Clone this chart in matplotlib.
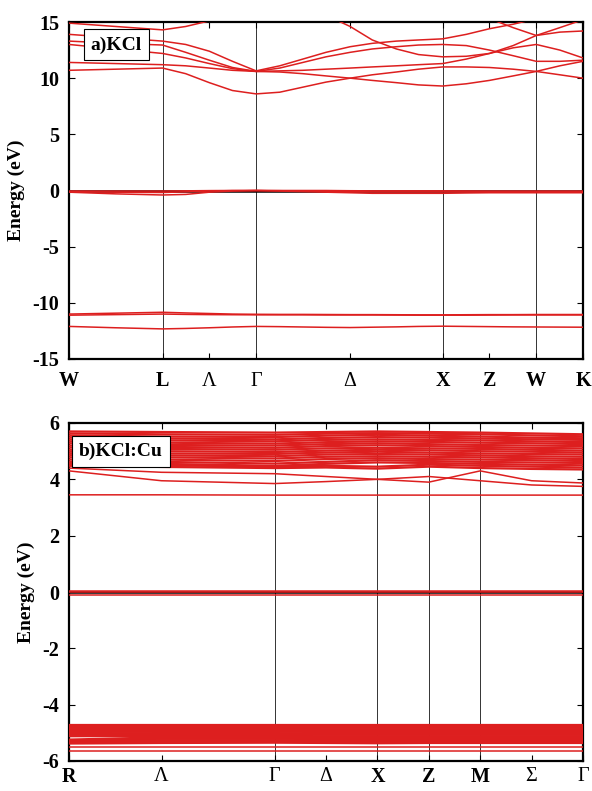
import numpy as np
import matplotlib.pyplot as plt

plt.rcParams['font.family'] = ['Liberation Serif', 'DejaVu Serif']
plt.rcParams['axes.unicode_minus'] = False

RED = '#dd1f1f'

# ---------------- a) KCl ----------------
k_a = [0.0, 0.091, 0.182, 0.227, 0.273, 0.318, 0.364, 0.41, 0.455, 0.5, 0.547,
       0.59, 0.637, 0.68, 0.727, 0.773, 0.818, 0.864, 0.909, 0.955, 1.0]
ticks_a = [0.0, 0.182, 0.273, 0.364, 0.547, 0.727, 0.818, 0.909, 1.0]
labels_a = ['W', 'L', 'Λ', 'Γ', 'Δ', 'X', 'Z', 'W', 'K']
vlines_a = [0.182, 0.364, 0.727, 0.909]

# conduction bands
c1 = [10.7, 10.8, 10.9, 10.4, 9.6, 8.9, 8.6, 8.75, 9.2, 9.65, 10.0, 10.3, 10.55, 10.8, 11.0, 11.0, 10.95, 10.8, 10.6, 10.3, 10.0]
c2 = [11.4, 11.3, 11.2, 11.1, 10.9, 10.7, 10.6, 10.55, 10.4, 10.2, 10.0, 9.8, 9.6, 9.4, 9.3, 9.5, 9.8, 10.2, 10.6, 11.1, 11.5]
c3 = [13.0, 12.6, 12.2, 11.8, 11.3, 10.85, 10.6, 10.65, 10.7, 10.8, 10.9, 11.0, 11.1, 11.2, 11.3, 11.7, 12.2, 12.7, 13.0, 12.5, 11.8]
c4 = [13.3, 13.1, 12.95, 12.3, 11.6, 10.95, 10.6, 10.9, 11.4, 11.9, 12.3, 12.6, 12.8, 12.95, 13.0, 12.9, 12.5, 12.0, 11.5, 11.5, 11.6]
c5 = [13.9, 13.6, 13.3, 13.0, 12.4, 11.5, 10.65, 11.1, 11.7, 12.3, 12.8, 13.1, 13.3, 13.4, 13.5, 13.9, 14.4, 14.8, 15.3, 15.6, 15.8]
c6 = [14.9, 14.6, 14.3, 14.6, 15.1, 15.8, 16.5, 16.5, 16.5, 16.5, 16.5, 16.5, 16.5, 16.5, 16.5, 16.5, 16.5, 16.5, 16.5, 16.5, 16.5]
c7 = [16.5, 16.5, 16.5, 16.5, 16.5, 16.5, 16.5, 16.5, 16.5, 15.6, 14.6, 13.4, 12.6, 12.1, 11.9, 11.95, 12.2, 12.9, 13.8, 14.1, 14.2]
c8 = [16.5, 16.5, 16.5, 16.5, 16.5, 16.5, 16.5, 16.5, 16.5, 16.5, 16.5, 16.5, 16.5, 16.5, 16.5, 16.0, 15.3, 14.5, 13.8, 14.5, 15.2]
# valence bands (Cl 3p)
v1 = [-0.05, -0.05, -0.05, -0.03, -0.01, 0.0, 0.0, 0.0, 0.0, 0.0, -0.02, -0.03, -0.03, -0.03, -0.03, -0.04, -0.05, -0.05, -0.05, -0.05, -0.05]
v2 = [-0.15, -0.3, -0.4, -0.35, -0.15, -0.05, 0.0, -0.05, -0.1, -0.15, -0.2, -0.25, -0.25, -0.25, -0.25, -0.22, -0.2, -0.2, -0.2, -0.2, -0.2]
v3 = [-0.1, -0.15, -0.18, -0.12, -0.05, -0.01, 0.0, -0.02, -0.05, -0.08, -0.1, -0.12, -0.12, -0.12, -0.12, -0.12, -0.12, -0.12, -0.12, -0.12, -0.12]
# Cl 3s bands
s1 = [-11.0, -10.92, -10.84, -10.9, -10.95, -11.0, -11.02, -11.03, -11.03, -11.04, -11.05, -11.05, -11.06, -11.07, -11.07, -11.06, -11.05, -11.05, -11.04, -11.04, -11.04]
s2 = [-11.1, -11.05, -11.0, -11.03, -11.05, -11.06, -11.07, -11.07, -11.07, -11.08, -11.08, -11.08, -11.09, -11.1, -11.1, -11.1, -11.09, -11.08, -11.08, -11.08, -11.08]
s3 = [-12.1, -12.22, -12.32, -12.28, -12.22, -12.15, -12.1, -12.12, -12.15, -12.18, -12.2, -12.17, -12.14, -12.1, -12.08, -12.1, -12.12, -12.14, -12.15, -12.16, -12.17]

bands_a = [c1, c2, c3, c4, c5, c6, c7, c8, v1, v2, v3, s1, s2, s3]

# ---------------- b) KCl:Cu ----------------
k_b = [0.0, 0.18, 0.40, 0.50, 0.60, 0.70, 0.80, 0.90, 1.0]
labels_b = ['R', 'Λ', 'Γ', 'Δ', 'X', 'Z', 'M', 'Σ', 'Γ']
vlines_b = [0.40, 0.60, 0.70, 0.80]

cb_dense = [
    [5.70, 5.68, 5.66, 5.68, 5.70, 5.68, 5.66, 5.63, 5.60],
    [5.63, 5.60, 5.58, 5.62, 5.64, 5.62, 5.60, 5.56, 5.53],
    [5.56, 5.52, 5.50, 5.55, 5.58, 5.55, 5.52, 5.48, 5.46],
    [5.49, 5.45, 5.42, 5.47, 5.50, 5.48, 5.45, 5.42, 5.40],
    [5.42, 5.38, 5.35, 5.40, 5.42, 5.40, 5.38, 5.35, 5.32],
    [5.35, 5.30, 5.27, 5.32, 5.35, 5.33, 5.30, 5.28, 5.25],
    [5.28, 5.22, 5.20, 5.25, 5.28, 5.25, 5.22, 5.20, 5.18],
    [5.20, 5.15, 5.12, 5.18, 5.21, 5.18, 5.15, 5.12, 5.10],
    [5.13, 5.08, 5.05, 5.10, 5.12, 5.10, 5.08, 5.05, 5.02],
    [5.05, 5.00, 4.97, 5.02, 5.05, 5.03, 5.00, 4.98, 4.95],
    [4.98, 4.92, 4.90, 4.95, 4.98, 4.95, 4.92, 4.90, 4.88],
    [4.91, 4.85, 4.82, 4.88, 4.90, 4.88, 4.85, 4.82, 4.80],
    [4.85, 4.78, 4.74, 4.80, 4.82, 4.80, 4.78, 4.75, 4.72],
    [4.78, 4.70, 4.65, 4.72, 4.75, 4.72, 4.70, 4.68, 4.65],
    [4.70, 4.62, 4.56, 4.62, 4.68, 4.65, 4.62, 4.60, 4.58],
    [4.62, 4.55, 4.48, 4.55, 4.60, 4.58, 4.55, 4.52, 4.50],
    [4.55, 4.50, 4.45, 4.48, 4.45, 4.52, 4.48, 4.45, 4.42],
    [4.48, 4.44, 4.40, 4.42, 4.38, 4.45, 4.40, 4.37, 4.35],
]
cb_low1 = [4.40, 4.25, 4.20, 4.10, 4.00, 3.90, 4.30, 3.95, 3.87]
cb_low2 = [4.30, 3.95, 3.85, 3.92, 4.00, 4.10, 3.95, 3.80, 3.75]
cb_flat = [3.45, 3.45, 3.44, 3.44, 3.44, 3.44, 3.44, 3.44, 3.44]
vb_top = [
    [0.04, 0.04, 0.04, 0.04, 0.04, 0.04, 0.04, 0.04, 0.04],
    [0.01, 0.01, 0.01, 0.01, 0.01, 0.01, 0.01, 0.01, 0.01],
    [-0.10, -0.10, -0.10, -0.10, -0.10, -0.10, -0.10, -0.10, -0.10],
]
vb_dense = [
    [-4.72, -4.72, -4.72, -4.72, -4.72, -4.72, -4.72, -4.72, -4.72],
    [-4.77, -4.77, -4.76, -4.77, -4.77, -4.77, -4.77, -4.77, -4.77],
    [-4.82, -4.82, -4.81, -4.82, -4.82, -4.82, -4.82, -4.82, -4.82],
    [-4.87, -4.86, -4.86, -4.87, -4.87, -4.87, -4.87, -4.87, -4.87],
    [-4.92, -4.91, -4.91, -4.92, -4.92, -4.92, -4.92, -4.92, -4.92],
    [-4.97, -4.96, -4.96, -4.97, -4.97, -4.97, -4.97, -4.97, -4.97],
    [-5.02, -5.01, -5.01, -5.02, -5.02, -5.02, -5.02, -5.02, -5.02],
    [-5.07, -5.06, -5.06, -5.07, -5.07, -5.07, -5.07, -5.07, -5.07],
    [-5.12, -5.11, -5.11, -5.12, -5.12, -5.12, -5.12, -5.12, -5.12],
    [-5.24, -5.16, -5.16, -5.17, -5.17, -5.17, -5.17, -5.17, -5.17],
    [-5.27, -5.21, -5.21, -5.22, -5.22, -5.22, -5.22, -5.22, -5.22],
    [-5.31, -5.26, -5.26, -5.27, -5.27, -5.27, -5.27, -5.27, -5.27],
    [-5.35, -5.31, -5.31, -5.32, -5.32, -5.32, -5.32, -5.32, -5.32],
    [-5.38, -5.36, -5.35, -5.36, -5.37, -5.36, -5.36, -5.36, -5.36],
]
vb_low1 = [-5.50, -5.50, -5.50, -5.50, -5.50, -5.50, -5.50, -5.50, -5.50]
vb_low2 = [-5.65, -5.65, -5.65, -5.65, -5.65, -5.65, -5.65, -5.65, -5.65]

dense_b = cb_dense + vb_dense
thin_b = [cb_low1, cb_low2, cb_flat] + vb_top + [vb_low1, vb_low2]


def style_axes(ax, ticks, labels, vlines, yticks, xpad):
    for x in vlines:
        ax.axvline(x, color='#333333', lw=0.7, zorder=1)
    ax.axhline(0, color='black', lw=1.8, zorder=2)
    ax.set_xlim(0, 1)
    ax.set_xticks(ticks)
    ax.set_xticklabels(labels)
    ax.set_yticks(yticks)
    ax.set_yticklabels([str(v) for v in yticks])
    ax.tick_params(direction='in', top=True, right=True, length=4, width=0.8,
                   labelsize=14.5)
    ax.tick_params(axis='x', pad=xpad)
    ax.tick_params(axis='y', pad=7)
    for lab in ax.get_xticklabels() + ax.get_yticklabels():
        lab.set_fontweight('normal' if lab.get_text() in 'ΛΓΔΣ' else 'bold')
    for sp in ax.spines.values():
        sp.set_linewidth(1.6)
    ax.set_ylabel('Energy (eV)', fontsize=14, fontweight='bold', labelpad=5)


fig = plt.figure(figsize=(5.92, 7.91), dpi=100)

ax1 = fig.add_axes([69 / 592, 1 - 359 / 791, 514 / 592, 337 / 791])
for b in bands_a:
    ax1.plot(k_a, b, color=RED, lw=1.1, zorder=3)
ax1.set_ylim(-15, 15)
style_axes(ax1, ticks_a, labels_a, vlines_a, [-15, -10, -5, 0, 5, 10, 15], 9)
ax1.text(0.092, 0.932, 'a)KCl', transform=ax1.transAxes, ha='center', va='center',
         fontsize=14, fontweight='bold', zorder=5,
         bbox=dict(boxstyle='square,pad=0.35', fc='white', ec='black', lw=0.8))

ax2 = fig.add_axes([69 / 592, 1 - 761 / 791, 514 / 592, 338 / 791])
for b in dense_b:
    ax2.plot(k_b, b, color=RED, lw=1.6, zorder=3)
for b in thin_b:
    ax2.plot(k_b, b, color=RED, lw=1.1, zorder=3)
ax2.set_ylim(-6, 6)
style_axes(ax2, k_b, labels_b, vlines_b, [-6, -4, -2, 0, 2, 4, 6], 4)
ax2.text(0.101, 0.917, 'b)KCl:Cu', transform=ax2.transAxes, ha='center', va='center',
         fontsize=14, fontweight='bold', zorder=5,
         bbox=dict(boxstyle='square,pad=0.35', fc='white', ec='black', lw=0.8))

fig.savefig('out.png', dpi=100)
